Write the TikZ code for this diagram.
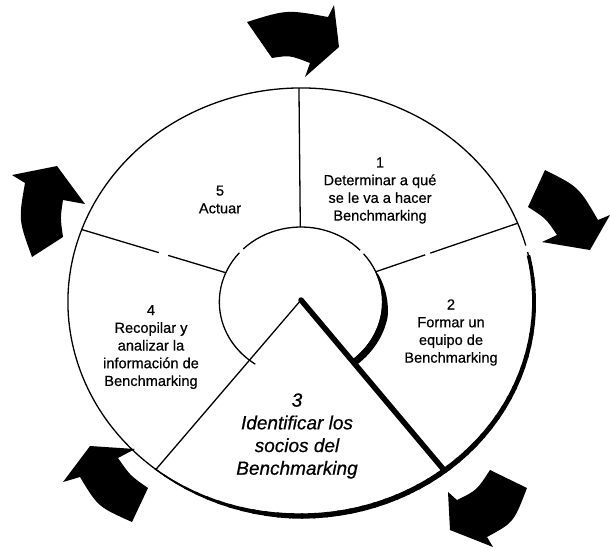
\documentclass[tikz,border=0pt]{standalone}
\usepackage{fontspec}
\setmainfont{Liberation Sans}
\newfontfamily\lblfont{Liberation Sans}[FakeBold=0.6]
\usetikzlibrary{calc}
\begin{document}
\begin{tikzpicture}[x=1pt,y=1pt,
  ringline/.style={line width=1.3pt, black},
  lbl/.style={align=center, inner sep=0pt, font=\lblfont\fontsize{14.6}{17.7}\selectfont},
  lblbig/.style={align=center, inner sep=0pt, font=\lblfont\fontsize{19}{22.7}\selectfont\itshape},
  blob/.style={fill=black, draw=none}]
\useasboundingbox (0,0) rectangle (610,-549);

% ---------- ring (slightly wider than tall) ----------
\begin{scope}[shift={(301,-302)}, xscale=1.089]
  \coordinate (apex) at (0,2);
  % outer rim, thin part
  \draw[ringline] (15.3:214) arc[start angle=15.3, end angle=373.5, radius=214];
  % outer rim, heavy shadow part: short arcs of varying width
  \foreach \a in {-129,-126,...,9} {
    \pgfmathsetmacro\rimw{min(1.3+0.114*(\a+129), 5.3-0.03*max(0,\a+50))}
    \draw[line width=\rimw pt, black] (\a:214) arc[start angle=\a, end angle=\a+3.6, radius=214];
  }
  % hub circle, thin parts
  \draw[ringline] (-52:75) arc[start angle=-52, end angle=40, radius=75];
  \draw[ringline] (43.6:75) arc[start angle=43.6, end angle=135, radius=75];
  \draw[ringline] (139:75) arc[start angle=139, end angle=236, radius=75];
  % hub circle, heavy shadow part
  \fill[black] plot[domain=-52:22, samples=60, variable=\t]
      ({(75+min(6,0.15*(29-\t)))*cos(\t)}, {(75+min(6,0.15*(29-\t)))*sin(\t)})
    -- plot[domain=22:-52, samples=60, variable=\t]
      ({74.4*cos(\t)}, {74.4*sin(\t)})
    -- cycle;
  % sector dividers
  \coordinate (d1i) at (90.5:75);  \coordinate (d1o) at (90.5:214);
  \coordinate (d5i) at (157:75);   \coordinate (d5o) at (160.2:214);
  \coordinate (d2i) at (23.8:75);  \coordinate (d2o) at (21.6:214);
  \coordinate (wl) at (231.5:214); \coordinate (wr) at (308:214);
  \draw[ringline] (d1i) -- (d1o);
  \draw[ringline] (d5o) -- ($(d5o)!0.535!(d5i)$);
  \draw[ringline] ($(d5o)!0.6!(d5i)$) -- (d5i);
  \draw[ringline] (d2o) -- ($(d2o)!0.616!(d2i)$);
  \draw[ringline] ($(d2o)!0.652!(d2i)$) -- (d2i);
  % pulled-out sector 3
  \draw[ringline] (apex) -- (wl);
  \draw[line width=5.5pt, line cap=round] (apex) -- (wr);
\end{scope}

% ---------- curved arrows ----------
% left
\fill[blob] (32,-257) -- (63,-237) .. controls (60.3,-217.8) .. (63,-200)
  -- (85,-204) -- (57,-166) -- (12,-175) -- (25,-183)
  .. controls (18.5,-220) .. (32,-257) -- cycle;
% top
\fill[blob] (247,-22) -- (272,-58) .. controls (289.7,-55.2) .. (310,-63)
  -- (305,-77) -- (339,-47) -- (334,-5) -- (328,-17)
  .. controls (286.8,-9.5) .. (247,-22) -- cycle;
% right
\fill[blob] (545,-170) -- (528,-207) .. controls (545.8,-218.3) .. (557,-235)
  -- (542,-242) -- (590,-250) -- (610,-215) -- (598,-220)
  .. controls (578.8,-187) .. (545,-170) -- cycle;
% bottom right
\fill[blob] (527,-488) -- (490,-470) .. controls (476.8,-490.3) .. (457,-500)
  -- (448,-492) -- (450,-530) -- (493,-547) -- (487,-537)
  .. controls (513.7,-522.5) .. (527,-488) -- cycle;
% bottom left
\fill[blob] (132,-522) -- (148,-488) .. controls (130.3,-475.7) .. (118,-458)
  -- (135,-449) -- (90,-446) -- (63,-482) -- (80,-477)
  .. controls (98,-506.8) .. (132,-522) -- cycle;

% ---------- labels ----------
\node[lbl] (t1) at (380,-190.5) {1\\Determinar a qué\\se le va a hacer\\Benchmarking};
\node[lbl] (t2) at (451,-332.5) {2\\Formar un\\equipo de\\Benchmarking};
\node[lblbig] (t3) at (297,-436) {3\\Identificar los\\socios del\\Benchmarking};
\node[lbl] (t4) at (151,-347) {4\\Recopilar y\\analizar la\\información de\\Benchmarking};
\node[lbl] (t5) at (220,-199.5) {5\\Actuar};
\end{tikzpicture}
\end{document}
